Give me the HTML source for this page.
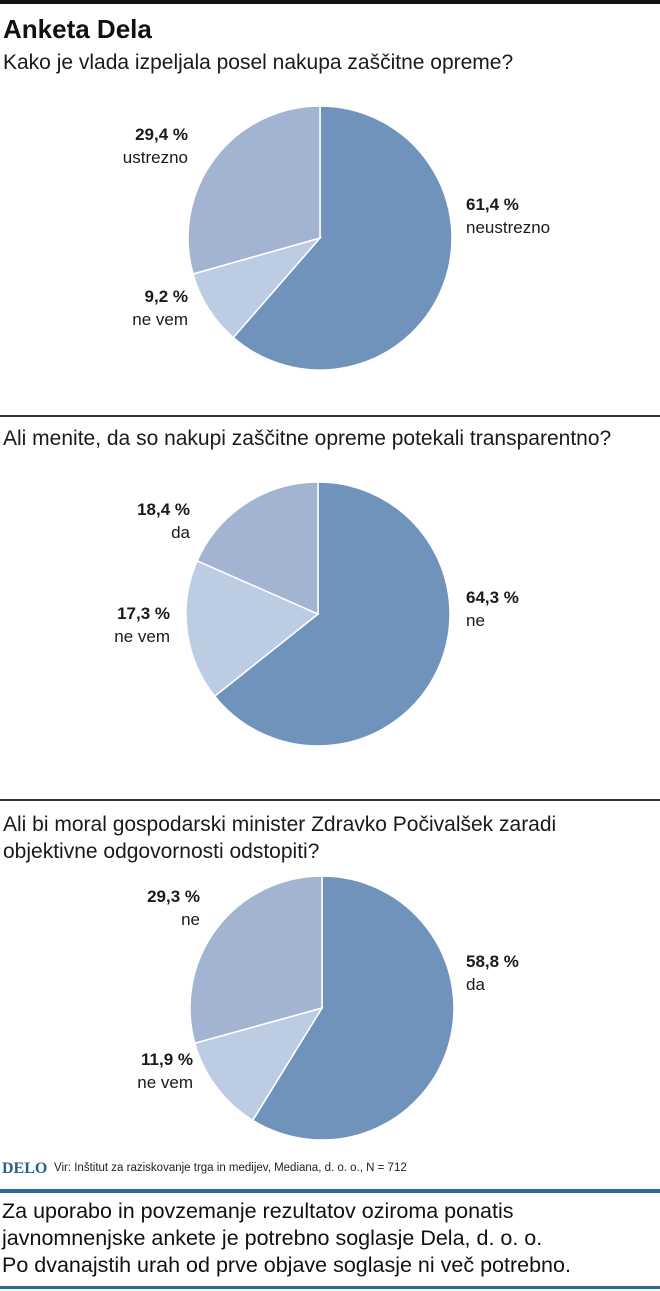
<!DOCTYPE html>
<html><head><meta charset="utf-8">
<style>
body{margin:0;width:660px;height:1291px;background:#fff;position:relative;overflow:hidden;font-family:"Liberation Sans","DejaVu Sans",sans-serif;color:#111}
.abs{position:absolute}
.q{font-size:21px;left:3px;line-height:27px;color:#1a1a1a}
.lb{position:absolute;font-size:17px;line-height:23px;color:#1a1a1a}
.lb b{display:block}
.r{text-align:right}
</style></head><body>
<div class="abs" style="left:0;top:0;width:660px;height:4px;background:#111"></div>
<div class="abs" style="left:3px;top:14px;font-size:26px;font-weight:bold">Anketa Dela</div>
<div class="abs q" style="top:49px">Kako je vlada izpeljala posel nakupa zaščitne opreme?</div>
<div class="abs" style="left:0;top:415px;width:660px;height:1.5px;background:#333"></div>
<div class="abs q" style="top:425px">Ali menite, da so nakupi zaščitne opreme potekali transparentno?</div>
<div class="abs" style="left:0;top:799px;width:660px;height:1.5px;background:#333"></div>
<div class="abs q" style="top:811px">Ali bi moral gospodarski minister Zdravko Počivalšek zaradi<br>objektivne odgovornosti odstopiti?</div>
<svg id="pies" class="abs" style="left:0;top:0" width="660" height="1291"></svg>
<div class="abs" style="left:2px;top:1160px;font-family:'Liberation Serif',serif;font-weight:bold;color:#2a5e8c;font-size:16px">DELO</div>
<div class="abs" style="left:54px;top:1162px;font-size:11.5px;color:#222">Vir: Inštitut za raziskovanje trga in medijev, Mediana, d. o. o., N = 712</div>
<div class="abs" style="left:0;top:1189px;width:660px;height:4px;background:#2f6a96"></div>
<div class="abs" style="left:2px;top:1198px;font-size:21.5px;line-height:27px;color:#111">Za uporabo in povzemanje rezultatov oziroma ponatis<br>javnomnenjske ankete je potrebno soglasje Dela, d. o. o.<br>Po dvanajstih urah od prve objave soglasje ni več potrebno.</div>
<div class="abs" style="left:0;top:1286px;width:660px;height:3px;background:#2f6a96"></div>
<script>
// data
const pie1Categories=["neustrezno","ne vem","ustrezno"];
const pie1Values=[61.4,9.2,29.4];
const pie2Categories=["ne","ne vem","da"];
const pie2Values=[64.3,17.3,18.4];
const pie3Categories=["da","ne vem","ne"];
const pie3Values=[58.8,11.9,29.3];
const colors=["#7093bb","#bccce3","#a3b4d2"];
const pies=[
 {cats:pie1Categories,vals:pie1Values,cx:320,cy:238,r:132,labels:[[466,193,0],[188,285,1],[188,123,1]]},
 {cats:pie2Categories,vals:pie2Values,cx:318,cy:614,r:132,labels:[[466,586,0],[170,602,1],[190,498,1]]},
 {cats:pie3Categories,vals:pie3Values,cx:322,cy:1008,r:132,labels:[[466,950,0],[193,1048,1],[200,885,1]]}
];
const svg=document.getElementById('pies');
const NS='http://www.w3.org/2000/svg';
function fmt(v){return v.toFixed(1).replace('.',',')+' %';}
pies.forEach((p,pi)=>{
 const total=p.vals.reduce((a,b)=>a+b,0);
 let a0=0;
 p.vals.forEach((v,i)=>{
  const a1=a0+v/total*Math.PI*2;
  const x0=p.cx+p.r*Math.sin(a0),y0=p.cy-p.r*Math.cos(a0);
  const x1=p.cx+p.r*Math.sin(a1),y1=p.cy-p.r*Math.cos(a1);
  const large=(a1-a0)>Math.PI?1:0;
  const path=document.createElementNS(NS,'path');
  path.setAttribute('d',`M${p.cx},${p.cy}L${x0},${y0}A${p.r},${p.r} 0 ${large} 1 ${x1},${y1}Z`);
  path.setAttribute('fill',colors[i]);
  path.setAttribute('stroke','#fff');
  path.setAttribute('stroke-width','1.5');
  
  
  svg.appendChild(path);
  a0=a1;
  const L=p.labels[i];
  const d=document.createElement('div');
  d.className='lb'+(L[2]?' r':'');
  d.style.top=L[1]+'px';
  if(L[2]){d.style.right=(660-L[0])+'px';}else{d.style.left=L[0]+'px';}
  d.innerHTML='<b>'+fmt(v)+'</b>'+p.cats[i];
  
  
  document.body.appendChild(d);
 });
});
</script>
</body></html>
